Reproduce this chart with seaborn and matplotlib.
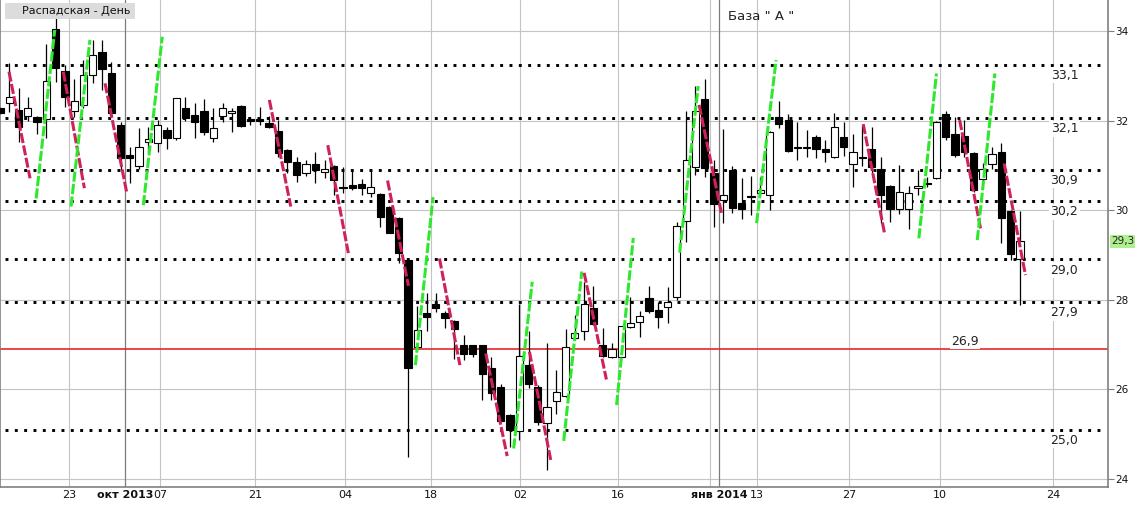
import numpy as np
import pandas as pd
import matplotlib
matplotlib.use('Agg')
import matplotlib.pyplot as plt
import matplotlib.transforms as mtransforms
from matplotlib.patches import Rectangle
import seaborn as sns

# 1. Daily candles (trading-day index 0..110)
opens = [32.27, 32.38, 32.23, 32.11, 32.07, 32.03, 34.04, 33.11, 32.21, 32.35,
         33.02, 33.52, 33.07, 31.90, 31.23, 30.99, 31.51, 31.49, 31.79, 31.60,
         32.27, 32.12, 32.21, 31.60, 32.10, 32.16, 32.32, 32.03, 32.03, 31.95,
         31.77, 31.34, 31.08, 30.82, 31.04, 30.84, 30.98, 30.52, 30.56, 30.58,
         30.38, 30.36, 30.08, 29.83, 28.89, 26.94, 27.71, 27.90, 27.70, 27.52,
         27.00, 27.00, 27.00, 26.47, 26.05, 25.43, 25.08, 26.54, 26.06, 25.24,
         25.74, 25.85, 27.14, 27.30, 27.81, 26.99, 26.73, 26.73, 27.40, 27.50,
         28.03, 27.77, 27.83, 28.07, 29.76, 30.97, 32.47, 30.82, 30.23, 30.90,
         30.15, 30.31, 30.38, 30.34, 32.07, 32.01, 31.41, 31.41, 31.63, 31.36,
         31.19, 31.63, 31.04, 31.19, 31.36, 30.92, 30.54, 30.02, 30.02, 30.49,
         30.60, 30.71, 32.15, 31.70, 31.66, 31.27, 30.69, 31.04, 31.29, 29.98,
         28.90]
highs = [32.30, 33.28, 32.72, 32.52, 32.10, 33.71, 34.36, 33.24, 32.92, 33.34,
         33.80, 33.80, 33.31, 31.97, 31.42, 31.83, 31.86, 32.01, 31.86, 32.50,
         32.52, 32.38, 32.47, 32.27, 32.38, 32.27, 32.34, 32.07, 32.31, 32.10,
         32.01, 31.36, 31.18, 31.12, 31.30, 31.12, 31.00, 30.96, 30.90, 30.69,
         30.90, 30.38, 30.10, 29.85, 28.90, 27.85, 28.14, 28.14, 27.75, 27.55,
         27.21, 27.00, 27.00, 26.73, 26.13, 25.45, 27.90, 27.31, 26.10, 27.03,
         26.43, 27.34, 27.66, 28.40, 28.31, 27.38, 27.03, 27.42, 28.07, 27.75,
         28.31, 27.96, 28.28, 29.74, 32.22, 32.76, 32.93, 31.12, 31.81, 30.98,
         30.71, 30.76, 30.73, 31.76, 32.44, 32.15, 31.97, 31.79, 31.67, 31.57,
         32.16, 31.97, 31.70, 31.88, 31.85, 31.19, 30.56, 31.01, 30.54, 30.90,
         30.75, 31.99, 32.22, 32.08, 32.01, 31.30, 31.06, 31.40, 31.49, 30.00,
         29.98]
lows = [32.15, 32.20, 31.53, 32.00, 31.71, 31.60, 32.87, 32.31, 32.08, 32.28,
        32.83, 32.68, 32.08, 30.90, 30.61, 30.91, 31.30, 31.30, 31.36, 31.56,
        32.00, 31.60, 31.68, 31.51, 31.97, 31.75, 31.86, 31.90, 31.90, 31.84,
        31.18, 30.82, 30.63, 30.76, 30.60, 30.71, 30.34, 30.38, 30.45, 30.34,
        30.29, 29.63, 29.48, 28.83, 24.50, 26.92, 27.31, 27.73, 27.38, 26.67,
        26.65, 26.73, 25.76, 25.76, 25.28, 24.72, 24.87, 26.02, 25.20, 24.20,
        25.46, 25.83, 27.10, 27.10, 27.44, 26.73, 26.69, 26.71, 27.38, 27.16,
        27.70, 27.38, 27.49, 28.00, 29.29, 30.78, 30.75, 29.63, 29.71, 29.94,
        29.80, 29.89, 30.36, 30.00, 31.83, 31.30, 31.12, 31.19, 31.17, 31.08,
        31.16, 31.21, 30.52, 30.98, 30.82, 29.71, 29.74, 29.91, 29.57, 30.34,
        30.52, 30.70, 31.57, 31.19, 31.19, 30.41, 30.63, 30.91, 29.27, 28.89,
        27.88]
closes = [32.17, 32.53, 31.85, 32.29, 31.96, 32.88, 33.18, 32.53, 32.44, 33.02,
          33.46, 33.14, 32.17, 31.16, 31.16, 31.40, 31.59, 31.89, 31.60, 32.50,
          32.06, 31.97, 31.74, 31.83, 32.29, 32.21, 31.88, 32.00, 32.00, 31.86,
          31.27, 31.08, 30.78, 31.04, 30.90, 30.91, 30.67, 30.50, 30.50, 30.49,
          30.51, 29.84, 29.50, 29.05, 26.48, 27.32, 27.62, 27.82, 27.60, 27.35,
          26.78, 26.78, 26.34, 25.91, 25.30, 25.09, 26.74, 26.11, 25.26, 25.60,
          25.93, 26.95, 27.25, 27.90, 27.46, 26.75, 26.89, 27.41, 27.47, 27.64,
          27.75, 27.61, 27.96, 29.65, 31.12, 32.21, 30.95, 30.14, 30.34, 30.05,
          30.02, 30.29, 30.46, 31.74, 31.92, 31.33, 31.39, 31.39, 31.36, 31.29,
          31.86, 31.40, 31.29, 31.17, 30.96, 30.34, 30.02, 30.40, 30.38, 30.54,
          30.58, 31.96, 31.63, 31.23, 31.30, 30.45, 30.91, 31.25, 29.82, 29.01,
          29.30]

# 2. Dashed trend segments (day index, price)
red_x0 = [0.97, 6.83, 11.33, 29.05, 35.35, 41.8, 47.4, 52.4, 57.1, 63.0, 75.4, 93.1, 103.5, 108.3]
red_y0 = [33.09, 33.09, 32.83, 32.46, 31.45, 30.66, 28.92, 26.80, 26.84, 28.60, 32.35, 31.92, 32.01, 31.04]
red_x1 = [3.24, 9.10, 13.67, 31.36, 37.57, 44.05, 49.6, 54.7, 59.4, 65.4, 77.8, 95.4, 105.8, 110.6]
red_y1 = [30.71, 30.49, 30.39, 30.08, 29.04, 28.31, 26.54, 24.51, 24.42, 26.22, 29.94, 29.48, 29.54, 28.55]

green_x0 = [3.9, 7.66, 15.46, 44.8, 55.4, 60.8, 66.5, 73.3, 81.6, 99.1, 105.4]
green_y0 = [30.26, 30.08, 30.11, 26.54, 24.68, 24.85, 25.65, 29.05, 29.71, 29.37, 29.33]
green_x1 = [5.9, 9.7, 17.5, 46.7, 57.4, 62.75, 68.3, 75.3, 83.7, 101.0, 107.3]
green_y1 = [34.02, 33.80, 33.87, 30.29, 28.40, 28.63, 29.38, 32.77, 33.35, 33.05, 33.05]

# 3. Levels and labels
levels = [33.25, 32.05, 30.9, 30.2, 28.9, 27.95, 25.1]
level_labels = ['33,1', '32,1', '30,9', '30,2', '29,0', '27,9', '25,0']
base_level = 26.9
base_label = '26,9'
last_label = '29,3'
last_price = 29.3

week_ticks = [7.45, 17.3, 27.5, 37.2, 46.5, 56.1, 66.6, 76.6, 81.6, 91.6, 101.4, 113.6]
week_labels = ['23', '07', '21', '04', '18', '02', '16', '', '13', '27', '10', '24']
month_ticks = [13.5, 77.55]
month_labels = ['окт 2013', 'янв 2014']
price_ticks = [24, 26, 28, 30, 32, 34]

df = pd.DataFrame({'open': opens, 'high': highs, 'low': lows, 'close': closes})
df['day'] = np.arange(len(df))
df['up'] = df['close'] >= df['open']

segs = []
for i in range(len(red_x0)):
    segs.append(dict(seg=f'r{i}', kind='down', x=red_x0[i], y=red_y0[i]))
    segs.append(dict(seg=f'r{i}', kind='down', x=red_x1[i], y=red_y1[i]))
for i in range(len(green_x0)):
    segs.append(dict(seg=f'g{i}', kind='up', x=green_x0[i], y=green_y0[i]))
    segs.append(dict(seg=f'g{i}', kind='up', x=green_x1[i], y=green_y1[i]))
seg_df = pd.DataFrame(segs)

# 4. Plot
sns.set_style('white')
plt.rcParams['font.family'] = ['DejaVu Sans']

fig = plt.figure(figsize=(11.35, 5.05), dpi=100)
ax = fig.add_axes([0, 18 / 505, 1108 / 1135, 487 / 505])
ax.set_xlim(0, 119.5)
ax.set_ylim(23.82, 34.69)

# grid
for p in price_ticks:
    ax.axhline(p, color='#c4c4c4', lw=0.8, zorder=0)
for t in week_ticks:
    ax.axvline(t, color='#c4c4c4', lw=0.8, zorder=0)
for t in month_ticks:
    ax.axvline(t, color='#7c7c7c', lw=0.9, zorder=0)

# levels
ax.hlines(levels, 0.5, 118.8, colors='black', linestyles=(0, (1, 2.2)), lw=2.1, zorder=1.5)
ax.axhline(base_level, color='#e8262a', lw=1.2, zorder=1.6)

# candles
ax.vlines(df['day'], df['low'], df['high'], color='black', lw=0.9, zorder=2)
body = (df['close'] - df['open']).abs().clip(lower=0.02)
ax.bar(df['day'], body, bottom=df[['open', 'close']].min(axis=1), width=0.78,
       color=np.where(df['up'], 'white', 'black'), edgecolor='black', linewidth=0.8, zorder=3)

# trend dashes
sns.lineplot(data=seg_df, x='x', y='y', hue='kind', units='seg', estimator=None, sort=False,
             palette={'down': '#cf2257', 'up': '#2ee82e'}, lw=2.2,
             linestyle=(0, (3.3, 0.8)), legend=False, ax=ax, zorder=4)
ax.set_xlabel('')
ax.set_ylabel('')

# level labels
for lv, lbl in zip(levels, level_labels):
    ax.annotate(lbl, xy=(114.8, lv), xytext=(0, -3), textcoords='offset points',
                ha='center', va='top', fontsize=9, color='#222222', zorder=5,
                bbox=dict(fc='white', ec='none', pad=1))
ax.annotate(base_label, xy=(104.1, base_level), xytext=(0, 1), textcoords='offset points',
            ha='center', va='bottom', fontsize=9, color='#222222', zorder=5,
            bbox=dict(fc='white', ec='none', pad=1))

# axes
ax.set_xticks(week_ticks + month_ticks, labels=week_labels + month_labels)
for lab in ax.get_xticklabels()[len(week_ticks):]:
    lab.set_fontweight('bold')
ax.tick_params(axis='x', length=0, pad=2, labelsize=8, labelcolor='#111111')
ax.yaxis.tick_right()
ax.set_yticks(price_ticks, labels=[str(p) for p in price_ticks])
ax.tick_params(axis='y', length=4, width=0.8, color='#808080', pad=1, labelsize=7.5, labelcolor='#111111')
for s in ['right', 'bottom', 'left']:
    ax.spines[s].set_color('#808080')
    ax.spines[s].set_linewidth(1.2)
ax.spines['top'].set_visible(False)

trans = mtransforms.blended_transform_factory(ax.transAxes, ax.transData)
ax.text(1.003, last_price, last_label, transform=trans, ha='left', va='center', fontsize=7.5,
        color='#222222', clip_on=False, bbox=dict(fc='#aef08e', ec='none', pad=1.2))

# header texts
fig.patches.append(Rectangle((5 / 1135, 1 - 19 / 505), 130 / 1135, 16 / 505,
                             transform=fig.transFigure, fc='#dcdcdc', ec='none', zorder=5))
fig.text(22 / 1135, 1 - 11 / 505, 'Распадская - День', fontsize=8, va='center', ha='left',
         color='#111111', zorder=6)
fig.text(728 / 1135, 1 - 17 / 505, 'База " А "', fontsize=9.5, va='center', ha='left',
         color='#222222')

plt.savefig('out.png', dpi=100)
